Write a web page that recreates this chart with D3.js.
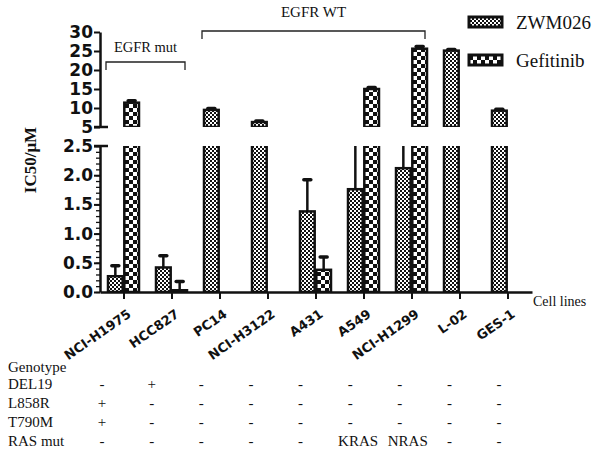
<!DOCTYPE html>
<html>
<head>
<meta charset="utf-8">
<script src="https://cdn.jsdelivr.net/npm/d3@7"></script>
<style>
  html, body { margin: 0; padding: 0; background: #fff; }
  svg { display: block; }
</style>
</head>
<body>
<div id="chart"></div>
<script>
// ---------------- data ----------------
const categories = ["NCI-H1975", "HCC827", "PC14", "NCI-H3122", "A431", "A549", "NCI-H1299", "L-02", "GES-1"];
const seriesNames = ["ZWM026", "Gefitinib"];
const zwmValues = [0.27, 0.42, 9.5, 6.3, 1.38, 1.76, 2.12, 25.1, 9.3];
const zwmErrors = [0.18, 0.20, 0.4, 0.3, 0.54, 1.2, 1.0, 0.3, 0.4];
const gefValues = [11.4, 0.03, null, null, 0.38, 15.0, 25.6, null, null];
const gefErrors = [0.5, 0.15, null, null, 0.22, 0.4, 0.6, null, null];
const lowTicks = [0, 0.5, 1.0, 1.5, 2.0, 2.5];
const highTicks = [5, 10, 15, 20, 25, 30];
const genotypeRows = ["DEL19", "L858R", "T790M", "RAS mut"];
const del19 = ["-", "+", "-", "-", "-", "-", "-", "-", "-"];
const l858r = ["+", "-", "-", "-", "-", "-", "-", "-", "-"];
const t790m = ["+", "-", "-", "-", "-", "-", "-", "-", "-"];
const rasMut = ["-", "-", "-", "-", "-", "KRAS", "NRAS", "-", "-"];
const groupLabels = ["EGFR mut", "EGFR WT"];

// ---------------- layout ----------------
const W = 600, H = 456;
const svg = d3.select("#chart").append("svg").attr("width", W).attr("height", H);
const sans = "'DejaVu Sans', Verdana, sans-serif";
const serif = "'Liberation Serif', 'Times New Roman', serif";

const x0 = d3.scaleBand().domain(categories).range([100, 532]);
const x1 = d3.scaleBand().domain(seriesNames).range([-16, 15]).paddingInner(0.1);
const yLow = d3.scaleLinear().domain([0, 2.5]).range([292, 146]);
const yHigh = d3.scaleLinear().domain([5, 30]).range([127, 32]);

// patterns
const defs = svg.append("defs");
const pz = defs.append("pattern").attr("id", "pzwm").attr("patternUnits", "userSpaceOnUse")
  .attr("width", 4).attr("height", 4);
pz.append("rect").attr("width", 4).attr("height", 4).attr("fill", "#111");
pz.append("rect").attr("width", 2).attr("height", 2).attr("fill", "#fff");
pz.append("rect").attr("x", 2).attr("y", 2).attr("width", 2).attr("height", 2).attr("fill", "#fff");
const pg = defs.append("pattern").attr("id", "pgef").attr("patternUnits", "userSpaceOnUse")
  .attr("x", 1).attr("width", 8).attr("height", 8);
pg.append("rect").attr("width", 8).attr("height", 8).attr("fill", "#111");
pg.append("rect").attr("x", 0).attr("y", 0).attr("width", 4).attr("height", 4).attr("fill", "#fff");
pg.append("rect").attr("x", 4).attr("y", 4).attr("width", 4).attr("height", 4).attr("fill", "#fff");

defs.append("clipPath").attr("id", "clipLow").append("rect")
  .attr("x", 100).attr("y", yLow(2.5)).attr("width", 440).attr("height", yLow(0) - yLow(2.5));
defs.append("clipPath").attr("id", "clipHigh").append("rect")
  .attr("x", 100).attr("y", 0).attr("width", 440).attr("height", yHigh(5));

const rows = categories.map((c, i) => [
  { cat: c, s: "ZWM026", v: zwmValues[i], e: zwmErrors[i], pat: "url(#pzwm)" },
  { cat: c, s: "Gefitinib", v: gefValues[i], e: gefErrors[i], pat: "url(#pgef)" }
]).flat().filter(d => d.v != null);

function cx(d) { return x0(d.cat) + x0.bandwidth() / 2; }

function drawSegment(clipId, y, base) {
  const g = svg.append("g").attr("clip-path", `url(#${clipId})`);
  const data = rows.filter(d => d.v > base);
  g.selectAll("line.err").data(data).join("line")
    .attr("x1", d => cx(d) + x1(d.s) + x1.bandwidth() / 2)
    .attr("x2", d => cx(d) + x1(d.s) + x1.bandwidth() / 2)
    .attr("y1", d => y(d.v)).attr("y2", d => y(d.v + d.e))
    .attr("stroke", "#111").attr("stroke-width", 2.5);
  g.selectAll("line.cap").data(data).join("line")
    .attr("x1", d => cx(d) + x1(d.s) + x1.bandwidth() / 2 - 3.5)
    .attr("x2", d => cx(d) + x1(d.s) + x1.bandwidth() / 2 + 3.5)
    .attr("y1", d => y(d.v + d.e)).attr("y2", d => y(d.v + d.e))
    .attr("stroke", "#111").attr("stroke-width", 3.5).attr("stroke-linecap", "round");
  g.selectAll("rect.bar").data(data).join("rect")
    .attr("x", d => cx(d) + x1(d.s))
    .attr("width", x1.bandwidth())
    .attr("y", d => y(d.v))
    .attr("height", d => y(base) - y(d.v))
    .attr("fill", d => d.pat)
    .attr("stroke", "#111").attr("stroke-width", 2.5);
}
drawSegment("clipLow", yLow, 0);
drawSegment("clipHigh", yHigh, 5);

// ---------------- axes ----------------
function styleAxis(g, fs) {
  g.select(".domain").attr("stroke", "#111").attr("stroke-width", 2.5);
  g.selectAll(".tick line").attr("stroke", "#111").attr("stroke-width", 2);
  g.selectAll(".tick text").attr("fill", "#111").attr("font-family", sans)
    .attr("font-weight", "bold").attr("font-size", fs);
}
const gLowMinor = svg.append("g").attr("transform", "translate(100,0)")
  .call(d3.axisLeft(yLow).tickValues(d3.range(0, 26).map(k => k / 10)).tickSize(4).tickSizeOuter(0).tickFormat(""));
gLowMinor.select(".domain").remove();
gLowMinor.selectAll(".tick line").attr("stroke", "#111").attr("stroke-width", 1.3);

const gLow = svg.append("g").attr("transform", "translate(100,0)")
  .call(d3.axisLeft(yLow).tickValues(lowTicks).tickFormat(d3.format(".1f")).tickSize(6).tickSizeOuter(0).tickPadding(1));
styleAxis(gLow, 17);
const gHigh = svg.append("g").attr("transform", "translate(100,0)")
  .call(d3.axisLeft(yHigh).tickValues(highTicks).tickFormat(d3.format("d")).tickSize(6).tickSizeOuter(0).tickPadding(1));
styleAxis(gHigh, 17);
// break caps
svg.append("line").attr("x1", 94).attr("x2", 108).attr("y1", yLow(2.5)).attr("y2", yLow(2.5))
  .attr("stroke", "#111").attr("stroke-width", 2.5);
svg.append("line").attr("x1", 94).attr("x2", 108).attr("y1", yHigh(5)).attr("y2", yHigh(5))
  .attr("stroke", "#111").attr("stroke-width", 2.5);

const gx = svg.append("g").attr("transform", `translate(0,${yLow(0)})`)
  .call(d3.axisBottom(x0).tickSize(7).tickSizeOuter(0));
styleAxis(gx, 13);
gx.selectAll(".tick text")
  .attr("text-anchor", "end").attr("x", 0).attr("y", 0).attr("dy", 0)
  .attr("transform", "translate(8,24) rotate(-35)");

// axis titles
svg.append("text").attr("transform", "translate(36,160) rotate(-90)")
  .attr("text-anchor", "middle").attr("font-family", serif).attr("font-weight", "bold")
  .attr("font-size", 17).attr("fill", "#111").text("IC50/μM");
svg.append("text").attr("x", 533).attr("y", 306).attr("font-family", serif)
  .attr("font-size", 14).attr("fill", "#111").text("Cell lines");

// ---------------- brackets ----------------
const brackets = [
  { label: groupLabels[0], from: categories[0], to: categories[1], y: 62, ty: 52, fs: 14.5 },
  { label: groupLabels[1], from: categories[2], to: categories[6], y: 31, ty: 17, fs: 15 }
];
brackets.forEach(b => {
  const xa = x0(b.from) + x0.bandwidth() / 2 - 18, xb = x0(b.to) + x0.bandwidth() / 2 + 13;
  svg.append("path").attr("d", `M${xa},${b.y + 8}V${b.y}H${xb}V${b.y + 8}`)
    .attr("fill", "none").attr("stroke", "#222").attr("stroke-width", 1.3);
  svg.append("text").attr("x", (xa + xb) / 2).attr("y", b.ty).attr("text-anchor", "middle")
    .attr("font-family", serif).attr("font-size", b.fs).attr("fill", "#111").text(b.label);
});

// ---------------- legend ----------------
const leg = svg.append("g");
seriesNames.forEach((s, i) => {
  const yy = 17 + i * 38;
  leg.append("rect").attr("x", 469).attr("y", yy).attr("width", 33).attr("height", 10)
    .attr("fill", i === 0 ? "url(#pzwm)" : "url(#pgef)").attr("stroke", "#111").attr("stroke-width", 3);
  leg.append("text").attr("x", 516).attr("y", yy + 12).attr("font-family", serif)
    .attr("font-size", 19).attr("fill", "#111").text(s);
});

// ---------------- genotype table ----------------
const gcol = d3.scalePoint().domain(categories).range([102, 499]);
const tableRows = [del19, l858r, t790m, rasMut];
svg.append("text").attr("x", 8).attr("y", 372).attr("font-family", serif)
  .attr("font-size", 15).attr("fill", "#111").text("Genotype");
genotypeRows.forEach((r, ri) => {
  const yy = 389 + ri * 19;
  svg.append("text").attr("x", 8).attr("y", yy).attr("font-family", serif)
    .attr("font-size", 15).attr("fill", "#111").text(r);
  svg.append("g").selectAll("text").data(tableRows[ri]).join("text")
    .attr("x", (d, i) => gcol(categories[i]) + (d.length > 1 ? 8 : 0))
    .attr("y", yy).attr("text-anchor", "middle")
    .attr("font-family", serif).attr("font-size", 15).attr("fill", "#111").text(d => d);
});
</script>
</body>
</html>
